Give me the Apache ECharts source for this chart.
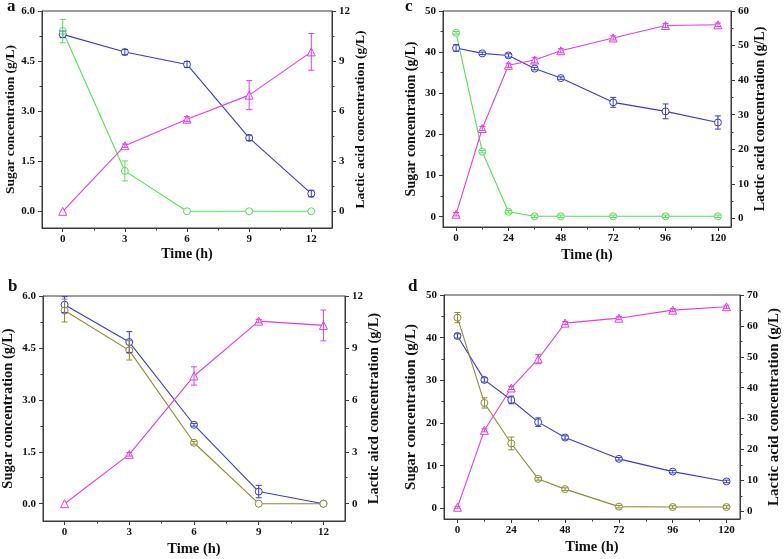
<!DOCTYPE html>
<html>
<head>
<meta charset="utf-8">
<script src="https://cdn.jsdelivr.net/npm/echarts@6/dist/echarts.min.js"></script>
<style>html,body{margin:0;padding:0;background:#fff;}#chart{width:784px;height:559px;}</style>
</head>
<body>
<div id="chart"></div>
<script>
// ---------- data ----------
const timeAB = [0, 3, 6, 9, 12];
const timeCD = [0, 12, 24, 36, 48, 72, 96, 120];

// panel a
const aSugarBlue = [5.30, 4.77, 4.40, 2.20, 0.53];
const aSugarBlueErr = [0.10, 0.08, 0.09, 0.08, 0.10];
const aSugarGreen = [5.40, 1.21, 0, 0, 0];
const aSugarGreenErr = [0.35, 0.30, 0, 0, 0];
const aLactic = [0, 3.93, 5.52, 6.96, 9.55];
const aLacticErr = [0, 0.10, 0.15, 0.87, 1.10];

// panel b
const bSugarBlue = [5.75, 4.67, 2.28, 0.35, 0];
const bSugarBlueErr = [0.23, 0.30, 0.04, 0.18, 0];
const bSugarOlive = [5.58, 4.43, 1.76, 0, 0];
const bSugarOliveErr = [0.33, 0.28, 0.04, 0, 0];
const bLactic = [0, 2.85, 7.38, 10.55, 10.30];
const bLacticErr = [0, 0.10, 0.53, 0.10, 0.89];

// panel c
const cSugarBlue = [41.0, 39.7, 39.2, 36.0, 33.7, 27.8, 25.6, 22.9];
const cSugarBlueErr = [0.8, 0.3, 0.4, 0.3, 0.3, 1.2, 1.8, 1.6];
const cSugarGreen = [44.7, 15.8, 1.2, 0.1, 0.1, 0.1, 0.1, 0.1];
const cSugarGreenErr = [0.3, 0.3, 0.3, 0.3, 0.3, 0.3, 0.3, 0.3];
const cLactic = [1.2, 26.0, 44.3, 45.8, 48.5, 52.2, 55.8, 56.0];
const cLacticErr = [0.5, 0.6, 0.6, 0.8, 0.6, 0.6, 0.6, 0.5];

// panel d
const dSugarBlue = [40.4, 30.1, 25.4, 20.2, 16.6, 11.6, 8.6, 6.3];
const dSugarBlueErr = [0.5, 0.5, 0.9, 1.0, 0.4, 0.3, 0.3, 0.3];
const dSugarOlive = [44.7, 24.7, 15.2, 6.9, 4.5, 0.4, 0.3, 0.3];
const dSugarOliveErr = [1.2, 1.2, 1.5, 0.3, 0.3, 0.3, 0.3, 0.3];
const dLactic = [1.3, 26.2, 39.9, 49.3, 60.9, 62.5, 65.1, 66.2];
const dLacticErr = [0.3, 0.5, 0.5, 1.5, 0.5, 0.5, 0.5, 0.5];

// tick labels
const ticksX12 = [0, 3, 6, 9, 12];
const minorX12 = [1.5, 4.5, 7.5, 10.5];
const ticksX120 = [0, 24, 48, 72, 96, 120];
const minorX120 = [12, 36, 60, 84, 108];
const ticksSugar6 = [0, 1.5, 3, 4.5, 6];
const minorSugar6 = [0.75, 2.25, 3.75, 5.25];
const ticksLactic12 = [0, 3, 6, 9, 12];
const minorLactic12 = [1.5, 4.5, 7.5, 10.5];
const ticksSugar50 = [0, 10, 20, 30, 40, 50];
const minorSugar50 = [5, 15, 25, 35, 45];
const ticksLactic60 = [0, 10, 20, 30, 40, 50, 60];
const minorLactic60 = [5, 15, 25, 35, 45, 55];
const ticksLactic70 = [0, 10, 20, 30, 40, 50, 60, 70];
const minorLactic70 = [5, 15, 25, 35, 45, 55, 65];

// ---------- styling ----------
const FONT = "'Liberation Serif', 'Times New Roman', serif";
const BLUE = '#3a3ad2', GREEN = '#55e055', OLIVE = '#8c8c32', MAGENTA = '#e23ee2';
const AXC = '#3a3a3a';

const panels = [
  { letter: 'a', grid: {left: 42, top: 11, width: 290, height: 217}, letterPos: [7, -2],
    x: [-1, 13, ticksX12, minorX12], yl: [-0.5, 6, ticksSugar6, minorSugar6, 1], yr: [-1, 12, ticksLactic12, minorLactic12],
    lName: 'Sugar concentration (g/L)', rName: 'Lactic acid concentration (g/L)', fs: 13.5, tfs: 14,
    gaps: [19, 23, 22], time: timeAB,
    s: [[aSugarBlue, aSugarBlueErr, BLUE, 'circle', 0], [aSugarGreen, aSugarGreenErr, GREEN, 'circle', 0], [aLactic, aLacticErr, MAGENTA, 'triangle', 1]] },
  { letter: 'c', grid: {left: 443, top: 11, width: 288, height: 216}, letterPos: [405, -2],
    x: [-6, 126, ticksX120, minorX120], yl: [-2.5, 50, ticksSugar50, minorSugar50, 0], yr: [-2.5, 60, ticksLactic60, minorLactic60],
    lName: 'Sugar concentration (g/L)', rName: 'Lactic acid concentration (g/L)', fs: 14, tfs: 14,
    gaps: [21, 25, 22], time: timeCD,
    s: [[cSugarBlue, cSugarBlueErr, BLUE, 'circle', 0], [cSugarGreen, cSugarGreenErr, GREEN, 'circle', 0], [cLactic, cLacticErr, MAGENTA, 'triangle', 1]] },
  { letter: 'b', grid: {left: 43, top: 296, width: 302, height: 225}, letterPos: [8, 278],
    x: [-1, 13, ticksX12, minorX12], yl: [-0.5, 6, ticksSugar6, minorSugar6, 1], yr: [-1, 12, ticksLactic12, minorLactic12],
    lName: 'Sugar concentration (g/L)', rName: 'Lactic aicd concentration (g/L)', fs: 14.5, tfs: 14.5,
    gaps: [21, 27, 21], time: timeAB,
    s: [[bSugarBlue, bSugarBlueErr, BLUE, 'circle', 0], [bSugarOlive, bSugarOliveErr, OLIVE, 'circle', 0], [bLactic, bLacticErr, MAGENTA, 'triangle', 1]] },
  { letter: 'd', grid: {left: 444, top: 295, width: 296, height: 224}, letterPos: [408, 278],
    x: [-6, 126, ticksX120, minorX120], yl: [-2.5, 50, ticksSugar50, minorSugar50, 0], yr: [-2.5, 70, ticksLactic70, minorLactic70],
    lName: 'Sugar concentration (g/L)', rName: 'Lactic acid concentration (g/L)', fs: 15, tfs: 14.5,
    gaps: [21, 25, 27], time: timeCD,
    s: [[dSugarBlue, dSugarBlueErr, BLUE, 'circle', 0], [dSugarOlive, dSugarOliveErr, OLIVE, 'circle', 0], [dLactic, dLacticErr, MAGENTA, 'triangle', 1]] }
];

const grids = [], xAxes = [], yAxes = [], series = [], graphics = [];

function labelStyle() {
  return { color: '#111', fontFamily: FONT, fontWeight: 'bold', fontSize: 11 };
}

function mainAxis(common, min, max, ticks, fmtDec, margin, name, nameGap, nfs) {
  return Object.assign({
    type: 'value', min: min, max: max,
    axisLine: { show: true, onZero: false, lineStyle: { color: AXC, width: 1 } },
    axisTick: { show: true, inside: false, length: 4, customValues: ticks, lineStyle: { color: AXC, width: 1 } },
    axisLabel: Object.assign({ show: true, margin: margin, customValues: ticks,
      formatter: v => fmtDec ? Number(v).toFixed(1) : String(Math.round(v)) }, labelStyle()),
    splitLine: { show: false },
    name: name, nameLocation: 'middle', nameGap: nameGap,
    nameTextStyle: { color: '#111', fontFamily: FONT, fontWeight: 'bold', fontSize: nfs }
  }, common);
}
function minorAxis(common, min, max, ticks) {
  return Object.assign({
    type: 'value', min: min, max: max,
    axisLine: { show: false, onZero: false },
    axisTick: { show: true, inside: false, length: 2.5, customValues: ticks, lineStyle: { color: AXC, width: 1 } },
    axisLabel: { show: false },
    splitLine: { show: false }
  }, common);
}

function errRenderer(color) {
  return function (params, api) {
    const x = api.value(0), y = api.value(1), e = api.value(2);
    if (!(e > 0)) return null;
    const t = api.coord([x, y + e]), b = api.coord([x, y - e]);
    const w = 3, st = { stroke: color, lineWidth: 1 };
    return { type: 'group', children: [
      { type: 'line', shape: { x1: t[0], y1: t[1], x2: b[0], y2: b[1] }, style: st },
      { type: 'line', shape: { x1: t[0] - w, y1: t[1], x2: t[0] + w, y2: t[1] }, style: st },
      { type: 'line', shape: { x1: b[0] - w, y1: b[1], x2: b[0] + w, y2: b[1] }, style: st }
    ] };
  };
}

panels.forEach((p, i) => {
  grids.push(Object.assign({ show: true, borderColor: AXC, borderWidth: 1, backgroundColor: 'transparent' }, p.grid));
  const xi = 2 * i, yi = 4 * i;
  xAxes.push(mainAxis({ gridIndex: i, position: 'bottom' }, p.x[0], p.x[1], p.x[2], 0, 6, 'Time (h)', p.gaps[0], p.tfs));
  xAxes.push(minorAxis({ gridIndex: i, position: 'bottom' }, p.x[0], p.x[1], p.x[3]));
  yAxes.push(mainAxis({ gridIndex: i, position: 'left' }, p.yl[0], p.yl[1], p.yl[2], p.yl[4], 7, p.lName, p.gaps[1], p.fs));
  yAxes.push(minorAxis({ gridIndex: i, position: 'left' }, p.yl[0], p.yl[1], p.yl[3]));
  yAxes.push(mainAxis({ gridIndex: i, position: 'right' }, p.yr[0], p.yr[1], p.yr[2], 0, 7, p.rName, p.gaps[2], p.fs));
  yAxes.push(minorAxis({ gridIndex: i, position: 'right' }, p.yr[0], p.yr[1], p.yr[3]));

  p.s.forEach(([vals, errs, color, sym, side]) => {
    const yIdx = side ? yi + 2 : yi;
    series.push({
      type: 'line', xAxisIndex: xi, yAxisIndex: yIdx, z: 2,
      data: p.time.map((t, k) => [t, vals[k]]),
      symbol: sym, symbolSize: sym === 'triangle' ? 8 : 7, showSymbol: true,
      lineStyle: { color: color, width: 1.1 },
      itemStyle: { color: '#ffffff', borderColor: color, borderWidth: 1 },
      animation: false
    });
    series.push({
      type: 'custom', coordinateSystem: 'cartesian2d', xAxisIndex: xi, yAxisIndex: yIdx, z: 3,
      data: p.time.map((t, k) => [t, vals[k], errs[k]]),
      renderItem: errRenderer(color), animation: false
    });
  });

  graphics.push({ type: 'text', left: p.letterPos[0], top: p.letterPos[1],
    style: { text: p.letter, font: "bold 17px " + FONT, fill: '#111' } });
});

const chart = echarts.init(document.getElementById('chart'), null, { renderer: 'canvas' });
chart.setOption({
  animation: false,
  backgroundColor: '#fff',
  grid: grids, xAxis: xAxes, yAxis: yAxes, series: series, graphic: graphics
});
</script>
</body>
</html>
